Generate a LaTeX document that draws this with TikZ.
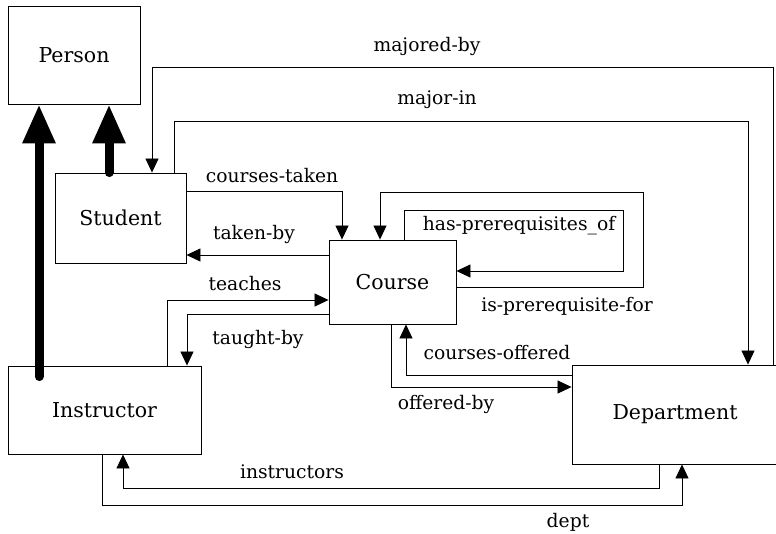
\documentclass[tikz,border=0pt]{standalone}
\usepackage{fontspec}
\setmainfont{DejaVu Serif}
\usetikzlibrary{arrows.meta,calc}

\tikzset{
  entity/.style={draw, line width=0.9pt, inner sep=0pt, font=\fontsize{20.5}{24}\selectfont},
  conn/.style={line width=0.8pt, -{Triangle[length=14pt,width=13pt]}},
  isa/.style={line width=9pt, line cap=round, -{Triangle[length=39pt,width=31pt]}},
  rel/.style={inner sep=1pt, font=\fontsize{18.7}{22}\selectfont},
}

\begin{document}
\begin{tikzpicture}[x=1pt,y=-1pt]
\useasboundingbox (0,0) rectangle (776,533);

% entities
\node[entity, minimum width=132pt, minimum height=98pt] (person) at (74,55) {Person};
\node[entity, minimum width=131pt, minimum height=90pt] (student) at (120.5,218) {Student};
\node[entity, minimum width=127pt, minimum height=84pt] (course) at (392.5,282) {Course};
\node[entity, minimum width=193pt, minimum height=88pt] (instructor) at (104.5,410) {Instructor};
\node[entity, minimum width=206pt, minimum height=99pt] (department) at (675,414.5) {Department};

% is-a links
\draw[isa] ($(instructor.north -| 39,0)+(0,11)$) -- (person.south -| 39,0);
\draw[isa] (student.north -| 109,0) -- (person.south -| 109,0);

% relationships
\draw[conn] (department.north -| 773,0) |- (152,67) -- (student.north -| 152,0);
\draw[conn] (student.north -| 174,0) |- (748,121) -- (department.north -| 748,0);
\draw[conn] (student.east |- 0,191) -| (course.north -| 342,0);
\draw[conn] (course.west |- 0,255) -- (student.east |- 0,255);
\draw[conn] (course.east |- 0,287) -| (643,192) -| (course.north -| 380,0);
\draw[conn] (course.north -| 404,0) |- (623,210) |- (course.east |- 0,271);
\draw[conn] (instructor.north -| 167,0) |- (course.west |- 0,300);
\draw[conn] (course.west |- 0,314) -| (instructor.north -| 187,0);
\draw[conn] (department.west |- 0,375) -| (course.south -| 406,0);
\draw[conn] (course.south -| 391,0) |- (department.west |- 0,387);
\draw[conn] (department.south -| 659,0) |- (123,488) -- (instructor.south -| 123,0);
\draw[conn] (instructor.south -| 102,0) |- (682,505) -- (department.south -| 682,0);

% relationship labels
\node[rel] (lmajoredby) at (427,46) {majored-by};
\node[rel] (lmajorin) at (437,100) {major-in};
\node[rel] (lcoursestaken) at (272,176) {courses-taken};
\node[rel] (ltakenby) at (254,234) {taken-by};
\node[rel] (lhasprereq) at (519,226) {has-prerequisites\_of};
\node[rel] (lisprereq) at (567,306) {is-prerequisite-for};
\node[rel] (lteaches) at (245,284) {teaches};
\node[rel] (ltaughtby) at (258,339) {taught-by};
\node[rel] (lcoursesoffered) at (497,353) {courses-offered};
\node[rel] (lofferedby) at (446,404) {offered-by};
\node[rel] (linstructors) at (292,472) {instructors};
\node[rel] (ldept) at (568,522) {dept};
\end{tikzpicture}
\end{document}
